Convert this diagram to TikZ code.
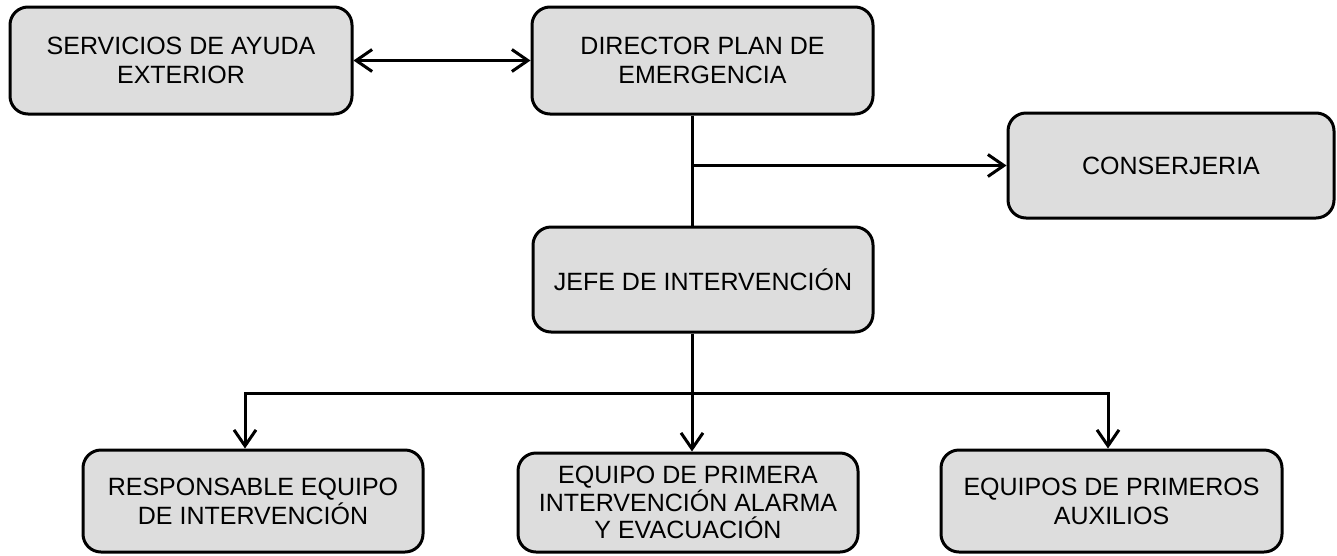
\documentclass[tikz,border=0pt]{standalone}
\usepackage{fontspec}
\setmainfont{Liberation Sans}
\usetikzlibrary{arrows.meta}
\definecolor{boxfill}{HTML}{DDDDDD}
\tikzset{
  box/.style={draw=black, fill=boxfill, line width=3pt, rounded corners=18pt,
    rectangle, inner sep=0pt, align=center,
    font=\fontsize{25}{29}\selectfont},
  conn/.style={line width=3pt, line join=miter},
  barb/.tip={Straight Barb[length=16pt,width=22pt,line width=3pt]},
  arr/.style={conn, -barb},
  arrtwo/.style={conn, barb-barb}
}
\begin{document}
\begin{tikzpicture}[x=1pt,y=-1pt]
\useasboundingbox (0,0) rectangle (1337,555);
\node[box, minimum width=342pt, minimum height=107pt] (serv) at (181,60.5) {SERVICIOS DE AYUDA\\EXTERIOR};
\node[box, minimum width=341pt, minimum height=107pt] (dir) at (702.5,60.5) {DIRECTOR PLAN DE\\EMERGENCIA};
\node[box, minimum width=326pt, minimum height=105pt] (cons) at (1171,165.5) {CONSERJERIA};
\node[box, minimum width=340pt, minimum height=105pt] (jefe) at (703,279.5) {JEFE DE INTERVENCIÓN};
\node[box, minimum width=340pt, minimum height=102pt] (resp) at (253,501) {RESPONSABLE EQUIPO\\DE INTERVENCIÓN};
\node[box, minimum width=340pt, minimum height=99pt, font=\fontsize{25}{27.5}\selectfont] (eq) at (688,502.5) {EQUIPO DE PRIMERA\\INTERVENCIÓN ALARMA\\Y EVACUACIÓN};
\node[box, minimum width=341pt, minimum height=102pt] (aux) at (1111.5,501) {EQUIPOS DE PRIMEROS\\AUXILIOS};
\coordinate (t) at (692,0);
\coordinate (bl) at (245,393);
\coordinate (bc) at (692,393);
\coordinate (br) at (1108,393);
\draw[arrtwo] (serv.east) -- (dir.west);
\draw[conn] (dir.south -| t) -- (jefe.north -| t);
\draw[arr] (cons.west -| t) -- (cons.west);
\draw[conn] (jefe.south -| t) -- (bc);
\draw[arrtwo] (resp.north -| bl) -- (bl) -- (br) -- (aux.north -| br);
\draw[arr] (bc) -- (eq.north -| bc);
\end{tikzpicture}
\end{document}
